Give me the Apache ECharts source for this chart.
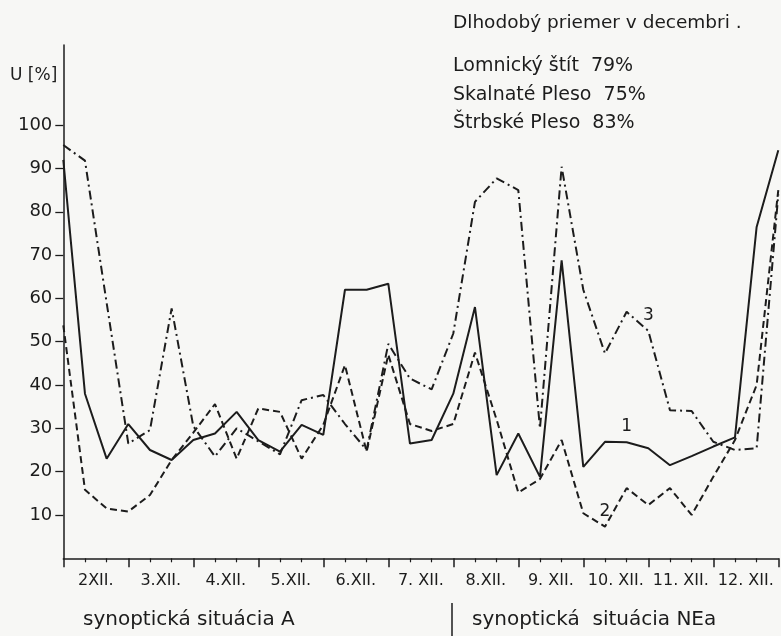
<!DOCTYPE html>
<html><head><meta charset="utf-8">
<script src="https://cdn.jsdelivr.net/npm/echarts@6/dist/echarts.min.js"></script>
<style>html,body{margin:0;padding:0;background:#f7f7f5}#c{width:781px;height:636px}</style>
</head><body><div id="c"></div><script>
// ---- data ----
const dayLabels = ['2XII.', '3.XII.', '4.XII.', '5.XII.', '6.XII.', '7. XII.', '8.XII.', '9. XII.', '10. XII.', '11. XII.', '12. XII.'];
const obsPerDay = 3;
const yTickValues = [10, 20, 30, 40, 50, 60, 70, 80, 90, 100];
// 1 - solid
const series1 = [92, 38, 23, 31, 25, 22.7, 27.3, 28.8, 33.8, 27.3, 24.6, 30.8, 28.5, 62, 62, 63.4, 26.5, 27.3, 38, 58, 19.2, 28.8, 18.8, 68.8, 21.1, 26.9, 26.8, 25.4, 21.5, 23.6, 25.8, 27.9, 76.5, 94.2];
// 2 - dashed
const series2 = [53.8, 15.8, 11.5, 10.8, 14.6, 22.7, 29, 35.6, 23, 34.6, 33.8, 23, 30.8, 44.6, 24.6, 47, 31, 29.4, 31, 47.5, 32, 15.2, 18.3, 27.3, 10.4, 7.3, 16.2, 12.3, 16.2, 10, 18.8, 27.3, 40, 85];
// 3 - dash-dot
const series3 = [95.4, 91.8, 59, 26.5, 29.6, 57.7, 30.5, 23.5, 30, 27, 24, 36.5, 37.7, 31, 25, 49.5, 41.5, 39, 51.9, 82.3, 87.7, 85, 30, 90.4, 62, 47.3, 56.9, 52.5, 34.2, 34, 26.9, 25, 25.4, 84];
const lineNames = ['1', '2', '3'];
const lineLabelIndex = [26, 25, 27];
const yAxisName = 'U [%]';
const noteTitle = 'Dlhodobý priemer v decembri .';
const noteLines = ['Lomnický štít  79%', 'Skalnaté Pleso  75%', 'Štrbské Pleso  83%'];
const situationLabels = ['synoptická situácia A', 'synoptická  situácia NEa'];

// ---- chart ----
const INK = '#1c1c1c';
const FONT = 'DejaVu Sans';
const nObs = series1.length;
const dayCenters = dayLabels.map((_, i) => i * obsPerDay + obsPerDay / 2);

function toData(arr, labelIdx, name) {
  return arr.map((v, i) => {
    const pt = [i, v];
    if (i === labelIdx) {
      return { value: pt, label: { show: true, formatter: name, position: 'top', distance: 7,
        color: INK, fontFamily: FONT, fontSize: 17 } };
    }
    return pt;
  });
}

const chart = echarts.init(document.getElementById('c'), null, { renderer: 'canvas' });
const txt = (l, t, s, fs) => ({ type: 'text', left: l, top: t,
  style: { text: s, fill: INK, font: fs + 'px "' + FONT + '"' } });
const lineSeries = (name, data, idx, type) => ({
  type: 'line', name: name, data: toData(data, idx, name),
  symbol: 'circle', symbolSize: 0, showSymbol: true, showAllSymbol: true,
  itemStyle: { color: INK }, label: { show: false },
  lineStyle: { color: INK, width: 2, type: type }
});

chart.setOption({
  backgroundColor: '#f7f7f5',
  animation: false,
  grid: { left: 63.3, right: 2.7, top: 45, bottom: 77.7, containLabel: false },
  xAxis: {
    type: 'value', min: 0, max: nObs - 1, interval: obsPerDay,
    axisLine: { show: true, lineStyle: { color: INK, width: 1.5 } },
    axisTick: { show: true, length: 9, lineStyle: { color: INK, width: 1.5 } },
    minorTick: { show: true, splitNumber: obsPerDay, length: 4, lineStyle: { color: INK, width: 1.2 } },
    splitLine: { show: false }, minorSplitLine: { show: false },
    axisLabel: {
      customValues: dayCenters,
      formatter: v => dayLabels[Math.floor(v / obsPerDay)] || '',
      color: INK, fontFamily: FONT, fontSize: 16, margin: 15
    }
  },
  yAxis: {
    type: 'value', min: 0, max: 118.5,
    axisLine: { show: true, lineStyle: { color: INK, width: 1.5 } },
    axisTick: { show: true, customValues: yTickValues, length: 8, lineStyle: { color: INK, width: 1.3 } },
    axisLabel: { customValues: yTickValues, color: INK, fontFamily: FONT, fontSize: 18, margin: 11 },
    splitLine: { show: false }
  },
  series: [
    lineSeries(lineNames[0], series1, lineLabelIndex[0], 'solid'),
    lineSeries(lineNames[1], series2, lineLabelIndex[1], [7, 4]),
    lineSeries(lineNames[2], series3, lineLabelIndex[2], [9, 4, 2, 4])
  ],
  graphic: [
    txt(10, 67, yAxisName, 17),
    txt(453, 14, noteTitle, 18.5),
    txt(453, 57, noteLines[0], 19),
    txt(453, 86, noteLines[1], 19),
    txt(453, 114, noteLines[2], 19),
    txt(83, 610, situationLabels[0], 20),
    txt(472, 610, situationLabels[1], 20),
    { type: 'line', shape: { x1: 452, y1: 603, x2: 452, y2: 636 }, style: { stroke: INK, lineWidth: 1.5 } }
  ]
});
</script></body></html>
